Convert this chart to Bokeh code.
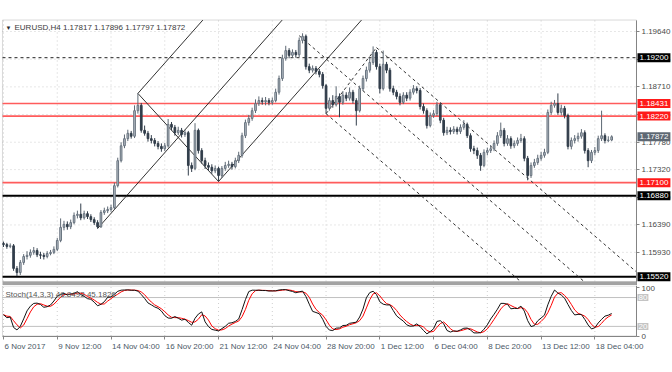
from bokeh.plotting import figure
from bokeh.models import Range1d, FixedTicker, Label, NumeralTickFormatter, ColumnDataSource, BoxAnnotation
from bokeh.layouts import column
from bokeh.embed import file_html
from bokeh.resources import INLINE

FONT = "Liberation Sans"

# ---------------- data (EURUSD H4, bar index 0 = 6 Nov 2017 20:00) ----------------
opens = [
    1.1608, 1.1606, 1.1603, 1.1604, 1.1566, 1.1559, 1.1576, 1.1586, 1.1588, 1.1593,
    1.1596, 1.1589, 1.1588, 1.1586, 1.1591, 1.1593, 1.1598, 1.1613, 1.1635, 1.1640,
    1.1636, 1.1643, 1.1655, 1.1657, 1.1651, 1.1658, 1.1653, 1.1648, 1.1643, 1.1636,
    1.1660, 1.1663, 1.1665, 1.1668, 1.1705, 1.1747, 1.1772, 1.1784, 1.1793, 1.1788,
    1.1831, 1.1840, 1.1798, 1.1793, 1.1784, 1.1781, 1.1776, 1.1771, 1.1767, 1.1772,
    1.1808, 1.1803, 1.1794, 1.1798, 1.1791, 1.1794, 1.1739, 1.1734, 1.1798, 1.1764,
    1.1747, 1.1739, 1.1736, 1.1730, 1.1734, 1.1722, 1.1734, 1.1739, 1.1741, 1.1737,
    1.1747, 1.1756, 1.1789, 1.1811, 1.1818, 1.1831, 1.1843, 1.1848, 1.1846, 1.1848,
    1.1845, 1.1848, 1.1862, 1.1885, 1.1919, 1.1932, 1.1924, 1.1929, 1.1925, 1.1949,
    1.1956, 1.1905, 1.1899, 1.1902, 1.1897, 1.1892, 1.1873, 1.1835, 1.1848, 1.1841,
    1.1855, 1.1845, 1.1857, 1.1852, 1.1862, 1.1848, 1.1831, 1.1868, 1.1885, 1.1899,
    1.1912, 1.1929, 1.1905, 1.1868, 1.1909, 1.1899, 1.1868, 1.1862, 1.1855, 1.1845,
    1.1857, 1.1852, 1.1862, 1.1868, 1.1865, 1.1838, 1.1831, 1.1806, 1.1823, 1.1826,
    1.1841, 1.1815, 1.1794, 1.1798, 1.1796, 1.1800, 1.1796, 1.1803, 1.1808, 1.1789,
    1.1767, 1.1764, 1.1756, 1.1739, 1.1761, 1.1764, 1.1767, 1.1776, 1.1789, 1.1798,
    1.1776, 1.1784, 1.1772, 1.1776, 1.1781, 1.1784, 1.1751, 1.1722, 1.1739, 1.1744,
    1.1751, 1.1756, 1.1761, 1.1828, 1.1840, 1.1843, 1.1828, 1.1835, 1.1823, 1.1771,
    1.1781, 1.1784, 1.1788, 1.1794, 1.1764, 1.1747, 1.1761, 1.1764, 1.1784, 1.1789,
    1.1781, 1.17817,
]
highs = [
    1.1611, 1.1609, 1.1608, 1.1607, 1.1570, 1.1580, 1.1590, 1.1595, 1.1598, 1.1602,
    1.1600, 1.1594, 1.1592, 1.1595, 1.1597, 1.1603, 1.1617, 1.1650, 1.1646, 1.1645,
    1.1648, 1.1660, 1.1663, 1.1675, 1.1663, 1.1662, 1.1657, 1.1652, 1.1647, 1.1664,
    1.1668, 1.1670, 1.1673, 1.1710, 1.1752, 1.1778, 1.1791, 1.1799, 1.1797, 1.1840,
    1.1860, 1.1844, 1.1806, 1.1797, 1.1790, 1.1785, 1.1780, 1.1776, 1.1777, 1.1817,
    1.1812, 1.1807, 1.1804, 1.1802, 1.1799, 1.1797, 1.1744, 1.1810, 1.1801, 1.1768,
    1.1752, 1.1744, 1.1741, 1.1739, 1.1737, 1.1738, 1.1745, 1.1747, 1.1745, 1.1752,
    1.1762, 1.1794, 1.1816, 1.1824, 1.1836, 1.1850, 1.1855, 1.1853, 1.1854, 1.1852,
    1.1853, 1.1868, 1.1890, 1.1925, 1.1940, 1.1936, 1.1934, 1.1933, 1.1954, 1.1961,
    1.1959, 1.1910, 1.1907, 1.1906, 1.1901, 1.1896, 1.1876, 1.1853, 1.1857, 1.1872,
    1.1860, 1.1864, 1.1862, 1.1870, 1.1866, 1.1852, 1.1873, 1.1890, 1.1905, 1.1920,
    1.1939, 1.1933, 1.1910, 1.1932, 1.1913, 1.1903, 1.1873, 1.1866, 1.1860, 1.1862,
    1.1862, 1.1867, 1.1874, 1.1872, 1.1869, 1.1843, 1.1835, 1.1828, 1.1832, 1.1846,
    1.1844, 1.1819, 1.1804, 1.1803, 1.1805, 1.1804, 1.1808, 1.1815, 1.1811, 1.1793,
    1.1772, 1.1769, 1.1760, 1.1766, 1.1769, 1.1773, 1.1781, 1.1795, 1.1811, 1.1802,
    1.1790, 1.1788, 1.1781, 1.1786, 1.1792, 1.1788, 1.1755, 1.1744, 1.1750, 1.1757,
    1.1762, 1.1767, 1.1833, 1.1846, 1.1849, 1.1860, 1.1841, 1.1839, 1.1826, 1.1786,
    1.1790, 1.1794, 1.1800, 1.1798, 1.1768, 1.1765, 1.1770, 1.1789, 1.1831, 1.1793,
    1.1788, 1.17896,
]
lows = [
    1.1602, 1.1599, 1.1600, 1.1562, 1.1553, 1.1555, 1.1572, 1.1581, 1.1584, 1.1589,
    1.1585, 1.1582, 1.1581, 1.1583, 1.1588, 1.1590, 1.1595, 1.1610, 1.1630, 1.1631,
    1.1632, 1.1640, 1.1650, 1.1647, 1.1648, 1.1649, 1.1644, 1.1639, 1.1633, 1.1634,
    1.1656, 1.1659, 1.1661, 1.1665, 1.1702, 1.1744, 1.1768, 1.1780, 1.1784, 1.1785,
    1.1826, 1.1794, 1.1789, 1.1779, 1.1776, 1.1771, 1.1766, 1.1762, 1.1763, 1.1769,
    1.1798, 1.1789, 1.1790, 1.1786, 1.1787, 1.1722, 1.1728, 1.1731, 1.1759, 1.1742,
    1.1733, 1.1730, 1.1725, 1.1726, 1.1712, 1.1718, 1.1730, 1.1735, 1.1732, 1.1734,
    1.1743, 1.1752, 1.1785, 1.1806, 1.1814, 1.1827, 1.1839, 1.1841, 1.1840, 1.1840,
    1.1841, 1.1845, 1.1858, 1.1881, 1.1915, 1.1919, 1.1920, 1.1920, 1.1921, 1.1944,
    1.1900, 1.1894, 1.1895, 1.1892, 1.1887, 1.1868, 1.1826, 1.1831, 1.1836, 1.1838,
    1.1820, 1.1841, 1.1847, 1.1848, 1.1843, 1.1806, 1.1828, 1.1864, 1.1880, 1.1895,
    1.1908, 1.1900, 1.1860, 1.1865, 1.1894, 1.1863, 1.1857, 1.1850, 1.1840, 1.1842,
    1.1847, 1.1848, 1.1858, 1.1860, 1.1833, 1.1826, 1.1801, 1.1803, 1.1819, 1.1822,
    1.1810, 1.1789, 1.1790, 1.1791, 1.1792, 1.1791, 1.1792, 1.1799, 1.1785, 1.1762,
    1.1758, 1.1750, 1.1730, 1.1736, 1.1756, 1.1760, 1.1763, 1.1772, 1.1785, 1.1771,
    1.1772, 1.1767, 1.1768, 1.1772, 1.1777, 1.1746, 1.1714, 1.1718, 1.1735, 1.1740,
    1.1747, 1.1752, 1.1758, 1.1824, 1.1836, 1.1824, 1.1823, 1.1818, 1.1766, 1.1766,
    1.1776, 1.1779, 1.1784, 1.1759, 1.1736, 1.1743, 1.1756, 1.1760, 1.1780, 1.1776,
    1.1778, 1.17797,
]
closes = [
    1.1606, 1.1603, 1.1604, 1.1566, 1.1559, 1.1576, 1.1586, 1.1588, 1.1593, 1.1596,
    1.1589, 1.1588, 1.1586, 1.1591, 1.1593, 1.1598, 1.1613, 1.1635, 1.1640, 1.1636,
    1.1643, 1.1655, 1.1657, 1.1651, 1.1658, 1.1653, 1.1648, 1.1643, 1.1636, 1.1660,
    1.1663, 1.1665, 1.1668, 1.1705, 1.1747, 1.1772, 1.1784, 1.1793, 1.1788, 1.1831,
    1.1840, 1.1798, 1.1793, 1.1784, 1.1781, 1.1776, 1.1771, 1.1767, 1.1772, 1.1808,
    1.1803, 1.1794, 1.1798, 1.1791, 1.1794, 1.1739, 1.1734, 1.1798, 1.1764, 1.1747,
    1.1739, 1.1736, 1.1730, 1.1734, 1.1722, 1.1734, 1.1739, 1.1741, 1.1737, 1.1747,
    1.1756, 1.1789, 1.1811, 1.1818, 1.1831, 1.1843, 1.1848, 1.1846, 1.1848, 1.1845,
    1.1848, 1.1862, 1.1885, 1.1919, 1.1932, 1.1924, 1.1929, 1.1925, 1.1949, 1.1956,
    1.1905, 1.1899, 1.1902, 1.1897, 1.1892, 1.1873, 1.1835, 1.1848, 1.1841, 1.1855,
    1.1845, 1.1857, 1.1852, 1.1862, 1.1848, 1.1831, 1.1868, 1.1885, 1.1899, 1.1912,
    1.1929, 1.1905, 1.1868, 1.1909, 1.1899, 1.1868, 1.1862, 1.1855, 1.1845, 1.1857,
    1.1852, 1.1862, 1.1868, 1.1865, 1.1838, 1.1831, 1.1806, 1.1823, 1.1826, 1.1841,
    1.1815, 1.1794, 1.1798, 1.1796, 1.1800, 1.1796, 1.1803, 1.1808, 1.1789, 1.1767,
    1.1764, 1.1756, 1.1739, 1.1761, 1.1764, 1.1767, 1.1776, 1.1789, 1.1798, 1.1776,
    1.1784, 1.1772, 1.1776, 1.1781, 1.1784, 1.1751, 1.1722, 1.1739, 1.1744, 1.1751,
    1.1756, 1.1761, 1.1828, 1.1840, 1.1843, 1.1828, 1.1835, 1.1823, 1.1771, 1.1781,
    1.1784, 1.1788, 1.1794, 1.1764, 1.1747, 1.1761, 1.1764, 1.1784, 1.1789, 1.1781,
    1.17817, 1.17872,
]

time_tick_bars = [0, 16, 32, 48, 64, 80, 96, 112, 128, 144, 160, 176]
time_tick_labels = ["6 Nov 2017", "9 Nov 12:00", "14 Nov 04:00", "16 Nov 20:00",
                    "21 Nov 12:00", "24 Nov 04:00", "28 Nov 20:00", "1 Dec 12:00",
                    "6 Dec 04:00", "8 Dec 20:00", "13 Dec 12:00", "18 Dec 04:00"]
price_ticks = [1.19640, 1.19175, 1.18710, 1.18245, 1.17780, 1.17320,
               1.16850, 1.16390, 1.15930]

# horizontal levels drawn on the chart
dotted_levels = [1.19200]
red_levels = [1.18431, 1.18220, 1.17100]
black_levels = [1.16880, 1.15520]

# Andrews' pitchfork anchors (bar index, price)
up_fork_bars = [28, 40, 64]
up_fork_prices = [1.1633, 1.1860, 1.1712]
down_fork_bars = [88, 96, 111]
down_fork_prices = [1.1957, 1.1826, 1.1937]

header_text = "EURUSD,H4  1.17817 1.17896 1.17797 1.17872"
stoch_text = "Stoch(14,3,3) 48.8493 45.1826"
stoch_levels = [80, 20]
K_PERIOD, D_PERIOD, SLOWING = 14, 3, 3

# ---------------- derived: stochastic oscillator from the OHLC above ----------------
n = len(closes)
bars = list(range(n))
stoch_main = []
for i in range(n):
    num = den = 0.0
    for j in range(max(0, i - SLOWING + 1), i + 1):
        lo = min(lows[max(0, j - K_PERIOD + 1):j + 1])
        hi = max(highs[max(0, j - K_PERIOD + 1):j + 1])
        num += closes[j] - lo
        den += hi - lo
    stoch_main.append(100.0 * num / den if den else 50.0)
stoch_signal = []
for i in range(n):
    w = stoch_main[max(0, i - D_PERIOD + 1):i + 1]
    stoch_signal.append(sum(w) / len(w))

# ---------------- geometry ----------------
XR = (-0.893, 199.107)          # whole canvas width in bar units
X_LEFT, X_AX = -0.298, 188.39   # chart frame left edge / price-axis line
Y_TOP, Y_BOT = 1.19833, 1.15440  # main chart frame top / bottom
P1_YR = (1.15373, 1.20161)
P2_YR = (-71.76, 105.04)

BULL_FILL, BULL_LINE = "#b9c0c8", "#67727e"
BEAR_FILL, BEAR_LINE = "#323e4b", "#323e4b"
GRID = "#cfcfcf"
FRAME = "#858585"
TXT = "#3a3a3a"
AXTXT = "#4a4a4a"


def style_axis(a):
    a.major_label_text_font = FONT
    a.major_label_text_font_size = "8px"
    a.major_label_text_color = AXTXT
    a.axis_line_color = FRAME
    a.major_tick_line_color = FRAME
    a.major_tick_out = 3
    a.major_tick_in = 0
    a.minor_tick_out = 0
    a.minor_tick_in = 0
    a.major_label_standoff = 2


def clip_line(x0, y0, slope, x_end, y_lo, y_hi):
    y_end = y0 + slope * (x_end - x0)
    if y_end > y_hi:
        x_end = x0 + (y_hi - y0) / slope
        y_end = y_hi
    elif y_end < y_lo:
        x_end = x0 + (y_lo - y0) / slope
        y_end = y_lo
    return x_end, y_end


def fork_segments(bx, py):
    mx = (bx[1] + bx[2]) / 2.0
    my = (py[1] + py[2]) / 2.0
    slope = (my - py[0]) / (mx - bx[0])
    xs0, ys0, xs1, ys1 = [], [], [], []
    for b, pr in zip(bx, py):
        xe, ye = clip_line(b, pr, slope, X_AX, Y_BOT, Y_TOP)
        xs0.append(b); ys0.append(pr); xs1.append(xe); ys1.append(ye)
    xs0.append(bx[1]); ys0.append(py[1]); xs1.append(bx[2]); ys1.append(py[2])
    return dict(x0=xs0, y0=ys0, x1=xs1, y1=ys1)


# ---------------- main price panel ----------------
p1 = figure(width=672, height=285, x_range=Range1d(*XR), y_range=Range1d(*P1_YR),
            x_axis_location=None, y_axis_location="right", output_backend="svg",
            toolbar_location=None, min_border_left=0, min_border_right=0,
            min_border_top=0, min_border_bottom=0)
p1.background_fill_color = "white"
p1.border_fill_color = "white"
p1.outline_line_color = None
p1.grid.visible = False

ay = p1.yaxis[0]
ay.fixed_location = X_AX
ay.bounds = (P1_YR[0], Y_TOP)
ay.ticker = FixedTicker(ticks=price_ticks)
ay.formatter = NumeralTickFormatter(format="0.00000")
style_axis(ay)

# grid (dotted)
p1.segment(x0=[X_LEFT] * len(price_ticks), y0=price_ticks, x1=[X_AX] * len(price_ticks),
           y1=price_ticks, line_color=GRID, line_dash="1 3", line_width=1)
p1.segment(x0=time_tick_bars, y0=[Y_BOT] * len(time_tick_bars), x1=time_tick_bars,
           y1=[Y_TOP] * len(time_tick_bars), line_color=GRID, line_dash="1 3", line_width=1)

# frame + separator bar under the price panel
p1.add_layout(BoxAnnotation(left=X_LEFT, right=X_AX, bottom=Y_BOT, top=Y_TOP, fill_alpha=0,
                            line_color=FRAME, line_width=1))
p1.add_layout(BoxAnnotation(left=X_LEFT, right=X_AX, top=Y_BOT, fill_color="#a3a3a3",
                            fill_alpha=1, line_color=None))

# levels
p1.segment(x0=[X_LEFT] * len(dotted_levels), y0=dotted_levels, x1=[X_AX] * len(dotted_levels),
           y1=dotted_levels, line_color="#222222", line_width=1, line_dash="3 3")
p1.segment(x0=[X_LEFT] * len(red_levels), y0=red_levels, x1=[X_AX] * len(red_levels),
           y1=red_levels, line_color="#ff5c5c", line_width=1.7)
p1.segment(x0=[X_LEFT] * len(black_levels), y0=black_levels, x1=[X_AX] * len(black_levels),
           y1=black_levels, line_color="#000000", line_width=2)

# pitchforks
p1.segment(source=ColumnDataSource(fork_segments(up_fork_bars, up_fork_prices)),
           x0="x0", y0="y0", x1="x1", y1="y1", line_color="#1a1a1a", line_width=0.9)
p1.segment(source=ColumnDataSource(fork_segments(down_fork_bars, down_fork_prices)),
           x0="x0", y0="y0", x1="x1", y1="y1", line_color="#333333", line_width=1,
           line_dash="3 3")

# candles
up = dict(x=[], top=[], bottom=[], hi=[], lo=[])
dn = dict(x=[], top=[], bottom=[], hi=[], lo=[])
for i in bars:
    d = up if closes[i] >= opens[i] else dn
    d["x"].append(i)
    d["top"].append(max(opens[i], closes[i]))
    d["bottom"].append(min(opens[i], closes[i]))
    d["hi"].append(highs[i])
    d["lo"].append(lows[i])
src_up = ColumnDataSource(up)
src_dn = ColumnDataSource(dn)
p1.segment(x0="x", y0="hi", x1="x", y1="lo", source=src_up, line_color="#5d6873", line_width=1)
p1.segment(x0="x", y0="hi", x1="x", y1="lo", source=src_dn, line_color=BEAR_LINE, line_width=1)
p1.vbar(x="x", width=0.5, top="top", bottom="bottom", source=src_up,
        fill_color=BULL_FILL, line_color=BULL_LINE, line_width=1)
p1.vbar(x="x", width=0.5, top="top", bottom="bottom", source=src_dn,
        fill_color=BEAR_FILL, line_color=BEAR_LINE, line_width=1)

# right-axis price boxes
box_specs = [(dotted_levels[0], "#000000"), (red_levels[0], "#ff1a1a"), (red_levels[1], "#ff1a1a"),
             (closes[-1], "#5e6873"), (red_levels[2], "#ff1a1a"), (black_levels[0], "#000000"),
             (black_levels[1], "#000000")]
for pr, col in box_specs:
    p1.add_layout(Label(x=X_AX, y=pr, x_offset=1, text="%.5f" % pr, text_font=FONT,
                        text_font_size="8px", text_color="white", text_align="left",
                        text_baseline="middle", background_fill_color=col,
                        background_fill_alpha=1.0, padding=2))

# header
p1.add_layout(Label(x=X_LEFT, y=Y_TOP, x_offset=3, y_offset=-7.5, text="\u25bc", text_font=FONT,
                    text_font_size="6px", text_color="#2a2a2a", text_baseline="middle"))
p1.add_layout(Label(x=X_LEFT, y=Y_TOP, x_offset=12, y_offset=-7.5, text=header_text, text_font=FONT,
                    text_font_size="8px", text_color=TXT, text_baseline="middle"))

# ---------------- stochastic panel ----------------
p2 = figure(width=672, height=85, x_range=p1.x_range, y_range=Range1d(*P2_YR),
            x_axis_location="below", y_axis_location="right", output_backend="svg",
            toolbar_location=None, min_border_left=0, min_border_right=0,
            min_border_top=0, min_border_bottom=0)
p2.background_fill_color = "white"
p2.border_fill_color = "white"
p2.outline_line_color = None
p2.grid.visible = False

ax = p2.xaxis[0]
ax.fixed_location = 0
ax.bounds = (X_LEFT, X_AX)
ax.ticker = FixedTicker(ticks=time_tick_bars)
style_axis(ax)
ax.major_label_text_color = None   # time labels are drawn left-aligned below

ay2 = p2.yaxis[0]
ay2.fixed_location = X_AX
ay2.bounds = (0, P2_YR[1])
ay2.ticker = FixedTicker(ticks=[0, 100])
style_axis(ay2)

p2.segment(x0=time_tick_bars, y0=[0] * len(time_tick_bars), x1=time_tick_bars,
           y1=[104] * len(time_tick_bars), line_color=GRID, line_dash="1 3", line_width=1)
p2.add_layout(BoxAnnotation(left=X_LEFT, right=X_AX, bottom=0, top=104, fill_alpha=0,
                            line_color=FRAME, line_width=1))

for lv in stoch_levels:
    p2.segment(x0=[X_LEFT], y0=[lv], x1=[X_AX], y1=[lv], line_color="#c0c0c0", line_width=1)
    p2.add_layout(Label(x=X_AX, y=lv, x_offset=1, text=str(lv), text_font=FONT, text_font_size="8px",
                        text_color="white", text_align="left", text_baseline="middle",
                        background_fill_color="#c4c4c4", padding=1))

p2.line(bars, stoch_signal, line_color="#ff0000", line_width=1)
p2.line(bars, stoch_main, line_color="#111111", line_width=1)

p2.add_layout(Label(x=X_LEFT, y=104, x_offset=3, y_offset=-8, text=stoch_text, text_font=FONT,
                    text_font_size="8px", text_color="#555555", text_baseline="middle"))

for b, t in zip(time_tick_bars, time_tick_labels):
    p2.add_layout(Label(x=b, y=0, x_offset=1, y_offset=-10, text=t, text_font=FONT,
                        text_font_size="8px", text_color="#4a5866", text_align="left",
                        text_baseline="middle"))

layout = column(p1, p2, spacing=0)
open("out.html", "w").write(file_html(layout, INLINE))
